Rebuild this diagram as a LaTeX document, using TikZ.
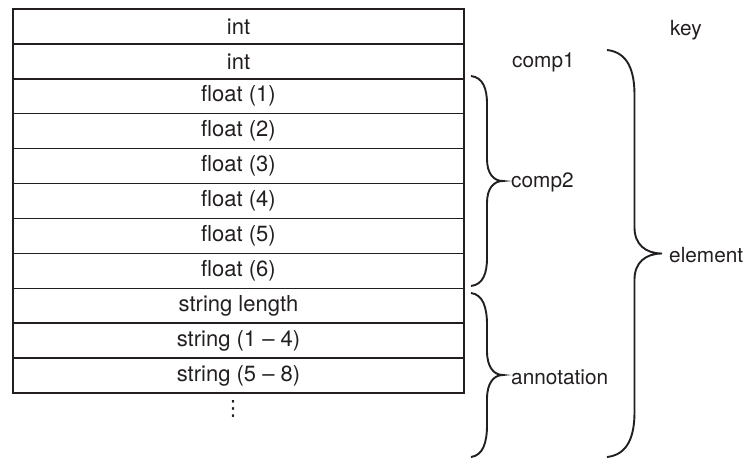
\documentclass[tikz,border=0pt]{standalone}
\usepackage{fontspec}
\setmainfont{TeX Gyre Heros}
\newfontfamily\symfont{DejaVu Sans}
\definecolor{ink}{HTML}{231F20}
% #1 x of ends, #2 top y, #3 bottom y, #4 half width, #5 end curve length, #6 tip curve length
\newcommand\mybrace[6]{%
  \pgfmathsetmacro\bxv{#1+#4}%
  \pgfmathsetmacro\bxt{#1+2*#4}%
  \pgfmathsetmacro\bym{(#2+#3)/2}%
  \draw[br] (#1,#2) .. controls (#1+0.75*#4,#2+0.05*#5) and (\bxv,#2+0.45*#5) .. (\bxv,#2+#5)
    -- (\bxv,\bym-#6) .. controls (\bxv,\bym-0.35*#6) and (\bxt-0.6*#4,\bym) .. (\bxt,\bym)
    .. controls (\bxt-0.6*#4,\bym) and (\bxv,\bym+0.35*#6) .. (\bxv,\bym+#6)
    -- (\bxv,#3-#5) .. controls (\bxv,#3-0.45*#5) and (#1+0.75*#4,#3-0.05*#5) .. (#1,#3);}
\begin{document}
\begin{tikzpicture}[x=1pt,y=-1pt,
  cell/.style={draw=ink, line width=1.4pt, minimum width=451pt, minimum height=34.9pt,
    inner sep=0pt, text=ink, font=\fontsize{22}{26}\selectfont, anchor=center},
  lbl/.style={text=ink, anchor=west, inner sep=0pt, font=\fontsize{20.8}{25}\selectfont},
  br/.style={draw=ink, line width=1.9pt}]
\useasboundingbox (0,0) rectangle (747,458);
\node[cell] (r1) at (238.5,26.45) {int};
\node[cell] (r2) at (238.5,61.35) {int};
\node[cell] (r3) at (238.5,96.25) {float (1)};
\node[cell] (r4) at (238.5,131.15) {float (2)};
\node[cell] (r5) at (238.5,166.05) {float (3)};
\node[cell] (r6) at (238.5,200.95) {float (4)};
\node[cell] (r7) at (238.5,235.85) {float (5)};
\node[cell] (r8) at (238.5,270.75) {float (6)};
\node[cell] (r9) at (238.5,305.65) {string length};
\node[cell] (r10) at (238.5,340.55) {string (1 -- 4)};
\node[cell] (r11) at (238.5,375.45) {string (5 -- 8)};
\node[text=ink, inner sep=0pt, font=\symfont\fontsize{21}{24}\selectfont] (dots) at (233,409) {⋮};
\node[lbl] (key) at (670,30) {key};
\node[lbl] (comp1) at (512,62) {comp1};
\node[lbl] (comp2) at (511,182) {comp2};
\node[lbl] (annot) at (511,377) {annotation};
\node[lbl] (elem) at (669,255) {element};
\mybrace{471}{76}{286}{16}{28}{22}
\mybrace{471}{293}{457}{16}{32}{24}
\mybrace{607}{50}{457}{27.5}{45}{26}
\end{tikzpicture}
\end{document}
